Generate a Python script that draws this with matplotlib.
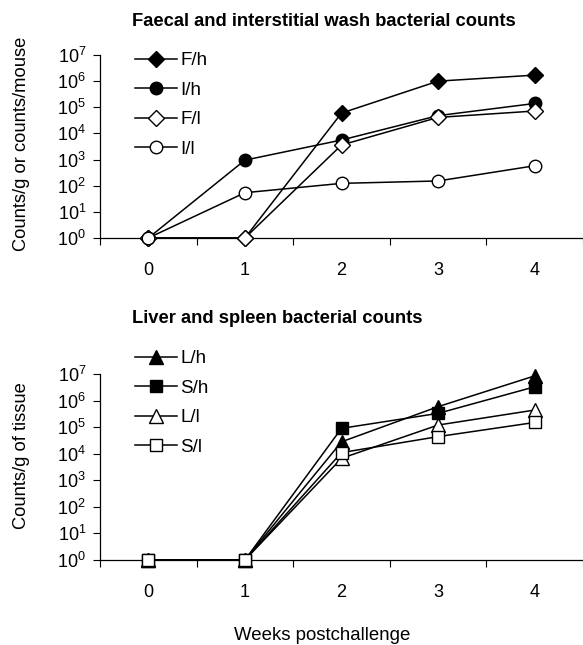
import numpy as np
import matplotlib.pyplot as plt
from matplotlib.ticker import FixedLocator, NullFormatter

plt.rcParams['font.family'] = ['Liberation Sans', 'DejaVu Sans']
plt.rcParams['mathtext.fontset'] = 'custom'
plt.rcParams['mathtext.rm'] = 'Liberation Sans'
plt.rcParams['mathtext.it'] = 'Liberation Sans'

weeks = [0, 1, 2, 3, 4]

# faecal / interstitial wash
f_h = [1, 1, 6e4, 1.0e6, 1.7e6]
i_h = [1, 9.5e2, 5.6e3, 4.8e4, 1.4e5]
f_l = [1, 1, 3.6e3, 4.1e4, 7.2e4]
i_l = [1, 54, 123, 152, 580]

# liver / spleen
l_h = [1, 1, 2.8e4, 5.9e5, 8.5e6]
s_h = [1, 1, 9e4, 3.3e5, 3.3e6]
l_l = [1, 1, 6.7e3, 1.2e5, 4.4e5]
s_l = [1, 1, 1.1e4, 4.4e4, 1.5e5]

top_series = [('F/h', f_h, 'D', 'k'), ('I/h', i_h, 'o', 'k'),
              ('F/l', f_l, 'D', 'w'), ('I/l', i_l, 'o', 'w')]
bot_series = [('L/h', l_h, '^', 'k'), ('S/h', s_h, 's', 'k'),
              ('L/l', l_l, '^', 'w'), ('S/l', s_l, 's', 'w')]

msize = {'D': 8, 'o': 9, '^': 9.5, 's': 8.5}

fig = plt.figure(figsize=(5.83, 6.45), dpi=100)
ax1 = fig.add_axes([100/583, 1-238/645, 483/583, 183/645])
ax2 = fig.add_axes([100/583, 1-560/645, 483/583, 186/645])

for ax, series in [(ax1, top_series), (ax2, bot_series)]:
    for name, vals, m, fc in series:
        ax.plot(weeks, vals, color='k', lw=1.1, marker=m, ms=msize[m],
                mfc=fc, mec='k', mew=1.0, label=name, clip_on=False, zorder=3)
    ax.set_yscale('log')
    ax.set_ylim(1, 1e7)
    ax.set_xlim(-0.5, 4.5)
    ax.yaxis.set_major_locator(FixedLocator([10.0**k for k in range(8)]))
    ax.yaxis.set_minor_locator(FixedLocator([]))
    ax.set_yticklabels([r'$10^{%d}$' % k for k in range(8)])
    ax.set_xticks(weeks)
    ax.set_xticklabels([str(w) for w in weeks])
    ax.xaxis.set_minor_locator(FixedLocator(np.arange(-0.5, 5, 1.0)))
    ax.xaxis.set_minor_formatter(NullFormatter())
    ax.tick_params(axis='x', which='major', length=0, pad=17, labelsize=13)
    ax.tick_params(axis='x', which='minor', length=5, width=0.8, direction='out')
    ax.tick_params(axis='y', which='major', length=5, width=0.8, direction='out',
                   pad=5, labelsize=13)
    for s in ['top', 'right']:
        ax.spines[s].set_visible(False)
    for s in ['left', 'bottom']:
        ax.spines[s].set_linewidth(0.9)
    ax.patch.set_alpha(0)

leg_kw = dict(frameon=False, fontsize=13.5, handlelength=2.25, handletextpad=0.15,
              labelspacing=0.66, borderaxespad=0, borderpad=0)
ax1.legend(loc='upper left', bbox_to_anchor=(135/583, 1-52/645),
           bbox_transform=fig.transFigure, **leg_kw)
ax2.legend(loc='upper left', bbox_to_anchor=(135/583, 1-350/645),
           bbox_transform=fig.transFigure, **leg_kw)

fig.text(132/583, 1-21/645, 'Faecal and interstitial wash bacterial counts',
         fontsize=13.2, fontweight='bold', ha='left', va='center')
fig.text(132/583, 1-318/645, 'Liver and spleen bacterial counts',
         fontsize=13.2, fontweight='bold', ha='left', va='center')
fig.text(22/583, 1-144/645, 'Counts/g or counts/mouse', fontsize=13.2,
         rotation=90, ha='center', va='center')
fig.text(22/583, 1-456/645, 'Counts/g of tissue', fontsize=13.2,
         rotation=90, ha='center', va='center')
fig.text(322/583, 1-636/645, 'Weeks postchallenge', fontsize=13.4,
         ha='center', va='center')

fig.savefig('out.png', dpi=100)
